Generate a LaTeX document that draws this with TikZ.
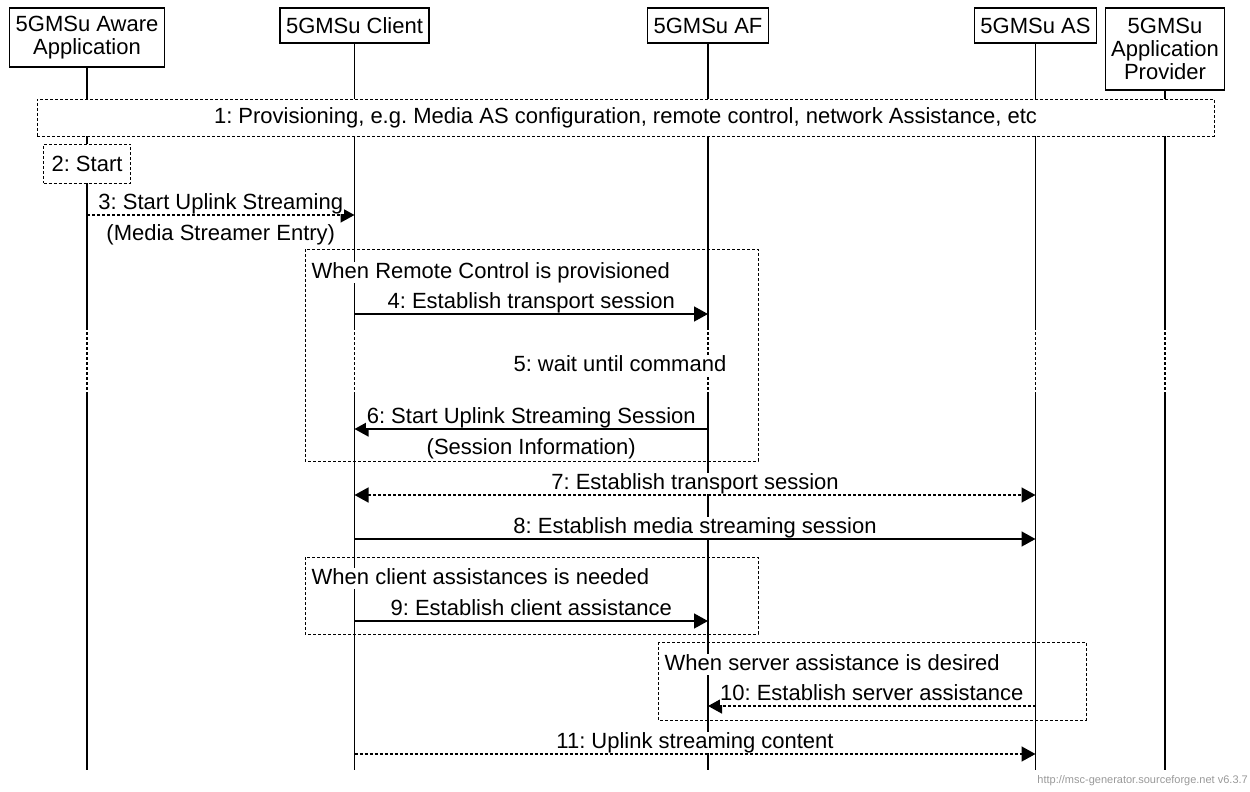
\documentclass[tikz,border=0pt]{standalone}
\usepackage{fontspec}
\setmainfont{Liberation Sans}
\usetikzlibrary{arrows.meta}
\frenchspacing

\begin{document}
\begin{tikzpicture} [x=1pt, y=-1pt, font=\fontsize{22pt}{23pt}\selectfont,
 head/.style={draw, line width=1.3pt, fill=white, align=center, inner xsep=6pt, inner ysep=6pt},
 life/.style={line width=1.5pt},
 lifegap/.style={line width=1.5pt, dash pattern=on 3pt off 2pt},
 dbox/.style={line width=1pt, dash pattern=on 3pt off 2pt},
 tip/.style={-{Triangle[length=14pt,width=15pt]}},
 tips/.style={{Triangle[length=14pt,width=15pt]}-{Triangle[length=14pt,width=15pt]}},
 msg/.style={line width=1.5pt},
 dmsg/.style={msg, dash pattern=on 3pt off 2pt},
 lbl/.style={fill=white, inner sep=0.5pt, text height=16pt, text depth=4pt}]
\useasboundingbox (0,0) rectangle (1250,792);
\node[head, minimum height=59pt] (aware) at (87,37.5) {5GMSu Aware\\Application};
\node[head, minimum height=35pt] (client) at (354.5,25.5) {5GMSu Client};
\node[head, minimum height=35pt] (af) at (708,25.5) {5GMSu AF};
\node[head, minimum height=35pt] (as) at (1035.5,25.5) {5GMSu AS};
\node[head, minimum height=82pt] (prov) at (1165,49) {5GMSu\\Application\\Provider};
\foreach \n in {aware,client,af,as,prov} {
 \draw[life] (\n.south) -- (\n |- 0,327);
 \draw[lifegap] (\n |- 0,327) -- (\n |- 0,394);
 \draw[life] (\n |- 0,394) -- (\n |- 0,770);
 }
\node[draw, dbox, fill=white, minimum width=1177pt, minimum height=37pt, inner sep=0pt] (provis) at (625.5,117.5) {1: Provisioning, e.g. Media AS configuration, remote control, network Assistance, etc};
\node[draw, dbox, fill=white, minimum width=87pt, minimum height=39pt, inner sep=0pt] (start) at (aware |- 0,163.5) {2: Start};
\draw[dbox] (305,249) rectangle (758,461);
\draw[dbox] (305,557) rectangle (758,634);
\draw[dbox] (658,642) rectangle (1086,720);
\node[lbl, anchor=west] (remote) at (311,272.5) {When Remote Control is provisioned};
\node[lbl, anchor=west] (clientas) at (311,578.5) {When client assistances is needed};
\node[lbl, anchor=west] (serveras) at (664,664.5) {When server assistance is desired};
\draw[dmsg,tip] (aware |- 0,215) -- (client |- 0,215)
 node[lbl, midway, yshift=11.5pt] (m3) {3: Start Uplink Streaming}
 node[lbl, midway, yshift=-19pt] (m3b) {(Media Streamer Entry)};
\draw[msg,tip] (client |- 0,314) -- (af |- 0,314)
 node[lbl, midway, yshift=11.5pt] (m4) {4: Establish transport session};
\node[lbl, anchor=east] (m5) at (727,365.5) {5: wait until command};
\draw[msg,tip] (af |- 0,429) -- (client |- 0,429)
 node[lbl, midway, yshift=11.5pt] (m6) {6: Start Uplink Streaming Session}
 node[lbl, midway, yshift=-19pt] (m6b) {(Session Information)};
\draw[dmsg,tips] (client |- 0,495) -- (as |- 0,495)
 node[lbl, midway, yshift=11.5pt] (m7) {7: Establish transport session};
\draw[msg,tip] (client |- 0,539) -- (as |- 0,539)
 node[lbl, midway, yshift=11.5pt] (m8) {8: Establish media streaming session};
\draw[msg,tip] (client |- 0,621) -- (af |- 0,621)
 node[lbl, midway, yshift=11.5pt] (m9) {9: Establish client assistance};
\draw[dmsg,tip] (as |- 0,706) -- (af |- 0,706)
 node[lbl, midway, yshift=11.5pt] (m10) {10: Establish server assistance};
\draw[dmsg,tip] (client |- 0,754) -- (as |- 0,754)
 node[lbl, midway, yshift=11.5pt] (m11) {11: Uplink streaming content};
\node[anchor=east, inner sep=0pt, text=black!40, font=\fontsize{11pt}{13pt}\selectfont] (url) at (1248,781) {http://msc-generator.sourceforge.net v6.3.7};
\end{tikzpicture}
\end{document}
